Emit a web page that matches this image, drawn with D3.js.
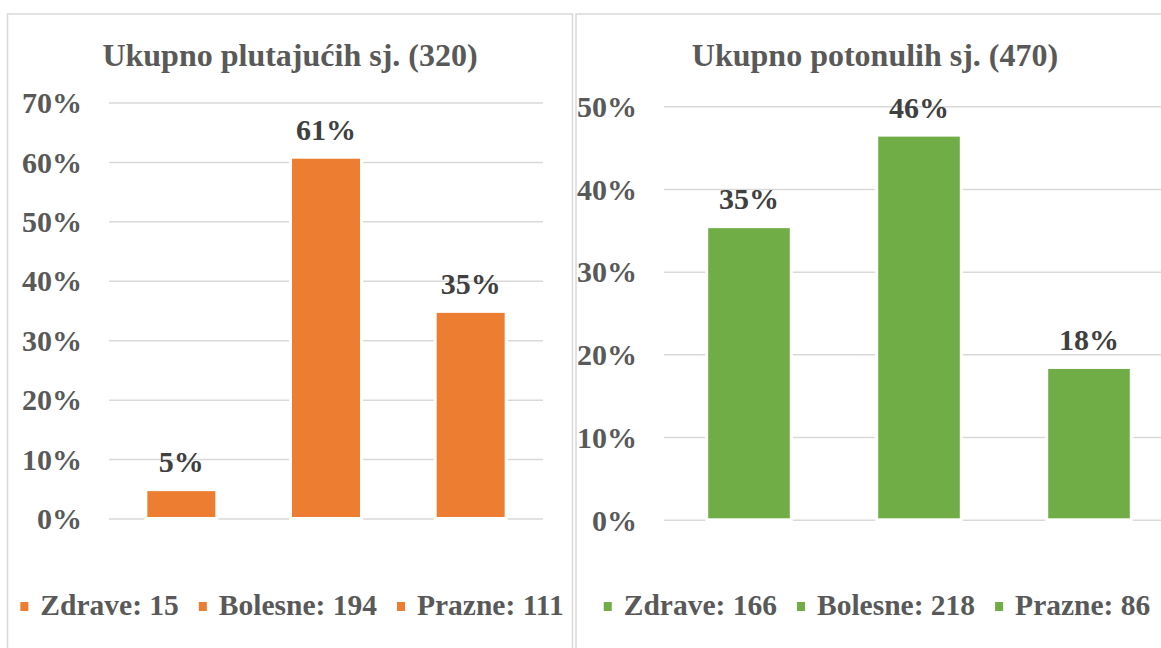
<!DOCTYPE html>
<html>
<head>
<meta charset="utf-8">
<script src="https://cdn.jsdelivr.net/npm/d3@7"></script>
<style>
  html, body { margin: 0; padding: 0; background: #fff; }
</style>
</head>
<body>
<svg id="chart" width="1161" height="648"></svg>
<script>
// data
var categories = ["Zdrave", "Bolesne", "Prazne"];

var titleLeft = "Ukupno plutajućih sj. (320)";
var countsLeft = [15, 194, 111];
var totalLeft = 320;
var ticksLeft = [0, 0.1, 0.2, 0.3, 0.4, 0.5, 0.6, 0.7];

var titleRight = "Ukupno potonulih sj. (470)";
var countsRight = [166, 218, 86];
var totalRight = 470;
var ticksRight = [0, 0.1, 0.2, 0.3, 0.4, 0.5];

var FONT = "'Liberation Serif', 'Times New Roman', serif";

var svg = d3.select("#chart");

function txt(sel, size) {
  return sel.style("font-family", FONT)
    .style("font-weight", "bold")
    .style("font-size", size + "px");
}

function drawPanel(opt) {
  var g = svg.append("g");

  // panel frame
  g.append("rect")
    .attr("x", opt.box[0]).attr("y", opt.box[1])
    .attr("width", opt.box[2]).attr("height", opt.box[3])
    .attr("fill", "#fff")
    .attr("stroke", "#d9d9d9")
    .attr("stroke-width", 1.5);

  var cx = opt.box[0] + opt.box[2] / 2;

  // title
  g.append("text")
    .attr("x", cx).attr("y", 66)
    .attr("text-anchor", "middle")
    .attr("fill", "#595959")
    .call(txt, 32)
    .text(opt.title);

  var values = opt.counts.map(function(c) { return c / opt.total; });

  var x = d3.scaleBand()
    .domain(opt.categories)
    .range([opt.plot.left, opt.plot.right])
    .paddingInner(opt.pad)
    .paddingOuter(opt.pad / 2);

  var y = d3.scaleLinear()
    .domain([0, d3.max(opt.ticks)])
    .range([opt.plot.bottom, opt.plot.top]);

  // grid lines
  g.append("g").selectAll("line")
    .data(opt.ticks)
    .enter().append("line")
      .attr("x1", opt.plot.left).attr("x2", opt.plot.right)
      .attr("y1", function(d) { return y(d); })
      .attr("y2", function(d) { return y(d); })
      .attr("stroke", "#d9d9d9")
      .attr("stroke-width", 1.5);

  // y tick labels
  g.append("g").selectAll("text")
    .data(opt.ticks)
    .enter().append("text")
      .attr("x", opt.labelRight)
      .attr("y", function(d) { return y(d); })
      .attr("dy", "0.34em")
      .attr("text-anchor", "end")
      .attr("fill", "#595959")
      .call(txt, 30)
      .text(d3.format(".0%"));

  // bars
  g.append("g").selectAll("rect")
    .data(values)
    .enter().append("rect")
      .attr("x", function(d, i) { return x(opt.categories[i]); })
      .attr("y", function(d) { return y(d); })
      .attr("width", x.bandwidth())
      .attr("height", function(d) { return y(0) - y(d) - 2; })
      .attr("fill", opt.color)
      .attr("stroke", "#fff")
      .attr("stroke-width", 6)
      .style("paint-order", "stroke");

  // value labels
  g.append("g").selectAll("text")
    .data(values)
    .enter().append("text")
      .attr("x", function(d, i) { return x(opt.categories[i]) + x.bandwidth() / 2; })
      .attr("y", function(d) { return y(d) - 19; })
      .attr("text-anchor", "middle")
      .attr("fill", "#404040")
      .call(txt, 30)
      .text(d3.format(".0%"));

  // legend
  var leg = g.append("g");
  var items = leg.selectAll("g")
    .data(opt.categories)
    .enter().append("g");
  items.append("rect")
    .attr("width", 8).attr("height", 9)
    .attr("y", 602)
    .attr("fill", opt.color);
  items.append("text")
    .attr("x", 20).attr("y", 615)
    .attr("fill", "#595959")
    .call(txt, 29.5)
    .text(function(d, i) { return d + ": " + opt.counts[i]; });

  var offs = 0;
  items.each(function() {
    var w = d3.select(this).select("text").node().getComputedTextLength();
    d3.select(this).attr("transform", "translate(" + offs + ",0)");
    offs += 20 + w + 20;
  });
  var total = offs - 20;
  leg.attr("transform", "translate(" + (cx - total / 2 + 2) + ",0)");
}

drawPanel({
  box: [7.5, 14, 565, 700],
  title: titleLeft,
  categories: categories,
  counts: countsLeft,
  total: totalLeft,
  ticks: ticksLeft,
  plot: { left: 109, right: 543, top: 103, bottom: 519 },
  pad: 0.53,
  labelRight: 82,
  color: "#ED7D31"
});

drawPanel({
  box: [576, 14, 598, 700],
  title: titleRight,
  categories: categories,
  counts: countsRight,
  total: totalRight,
  ticks: ticksRight,
  plot: { left: 664, right: 1174, top: 106.7, bottom: 520.3 },
  pad: 0.52,
  labelRight: 637,
  color: "#70AD47"
});
</script>
</body>
</html>
